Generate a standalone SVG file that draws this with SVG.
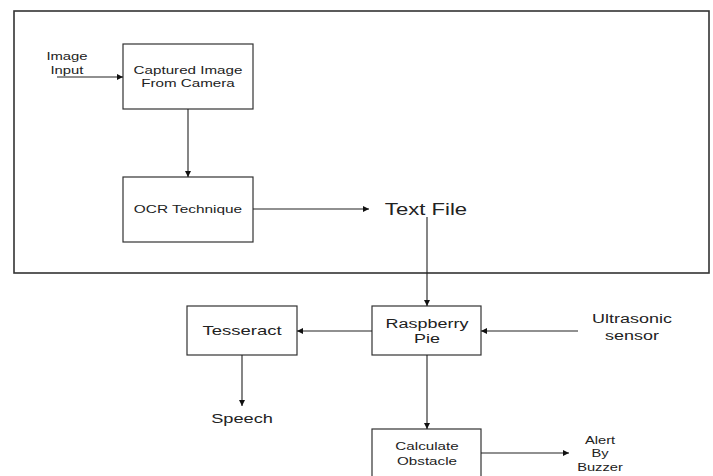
<svg xmlns="http://www.w3.org/2000/svg" width="713" height="476" viewBox="0 0 713 476">
<defs>
<marker id="ah" viewBox="0 0 10 10" refX="10" refY="5" markerWidth="8" markerHeight="6" markerUnits="userSpaceOnUse" orient="auto">
<path d="M0,0 L10,5 L0,10 z" fill="#111"/>
</marker>
<style>
.box{fill:#fff;stroke:#333;stroke-width:1.2}
.t{font-family:"Liberation Sans",Arial,sans-serif;fill:#222;text-anchor:middle}
.s{font-size:11px}
.m{font-size:13.5px}
.l{font-size:16.5px}
.a{font-size:10.5px}
.c{stroke:#222;stroke-width:1.1;fill:none;marker-end:url(#ah)}
</style>
</defs>
<rect width="713" height="476" fill="#fff"/>
<rect id="frame" x="14" y="11" width="695" height="262" fill="none" stroke="#333" stroke-width="1.6"/>
<g id="image-input"><text class="t s" transform="translate(67,60) scale(1.35,1)">Image</text><text class="t s" transform="translate(67,74) scale(1.35,1)">Input</text></g>
<g id="captured"><rect class="box" x="123" y="44" width="130" height="65"/><text class="t s" transform="translate(188,74) scale(1.38,1)">Captured Image</text><text class="t s" transform="translate(188,87) scale(1.38,1)">From Camera</text></g>
<g id="ocr"><rect class="box" x="123" y="177" width="130" height="65"/><text class="t s" transform="translate(188,213) scale(1.4,1)">OCR Technique</text></g>
<g id="textfile"><text class="t l" transform="translate(426,215) scale(1.34,1)">Text File</text></g>
<g id="raspberry"><rect class="box" x="372" y="306" width="109" height="49"/><text class="t m" transform="translate(427,328) scale(1.33,1)">Raspberry</text><text class="t m" transform="translate(427,343) scale(1.33,1)">Pie</text></g>
<g id="tesseract"><rect class="box" x="187" y="306" width="110" height="49"/><text class="t m" transform="translate(242,335) scale(1.37,1)">Tesseract</text></g>
<g id="ultrasonic"><text class="t m" transform="translate(632,323) scale(1.33,1)">Ultrasonic</text><text class="t m" transform="translate(632,340) scale(1.33,1)">sensor</text></g>
<g id="speech"><text class="t m" transform="translate(242,423) scale(1.35,1)">Speech</text></g>
<g id="calculate"><rect class="box" x="372" y="429" width="109" height="60"/><text class="t s" transform="translate(427,450) scale(1.38,1)">Calculate</text><text class="t s" transform="translate(427,465) scale(1.38,1)">Obstacle</text></g>
<g id="alert"><text class="t a" transform="translate(600,444) scale(1.4,1)">Alert</text><text class="t a" transform="translate(600,457) scale(1.4,1)">By</text><text class="t a" transform="translate(600,471) scale(1.4,1)">Buzzer</text></g>
<g id="connectors">
<path class="c" d="M57,77 H123"/>
<path class="c" d="M188,109 V177"/>
<path class="c" d="M253,209 H369"/>
<path class="c" d="M427,217 V306"/>
<path class="c" d="M372,331 H297"/>
<path class="c" d="M578,331 H481"/>
<path class="c" d="M242,355 V406"/>
<path class="c" d="M427,355 V429"/>
<path class="c" d="M481,453 H569"/>
</g>
</svg>
